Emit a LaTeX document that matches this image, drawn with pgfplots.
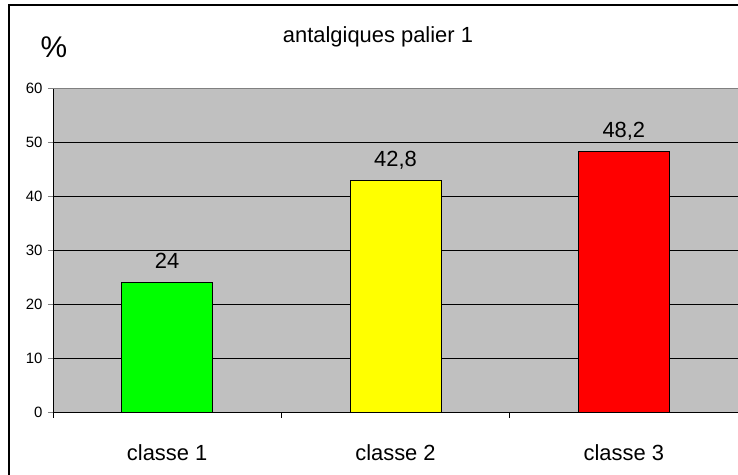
\documentclass[border=0pt]{standalone}
\usepackage{fontspec}
\setmainfont{Liberation Sans}
\usepackage{pgfplots}
\pgfplotsset{compat=1.18}

\definecolor{plotgray}{HTML}{C0C0C0}
\definecolor{edgegray}{HTML}{808080}

\begin{document}
\begin{tikzpicture}[x=1bp,y=1bp]
\path[use as bounding box] (-53,-63) rectangle (685,412);
% outer chart frame (only left and top edges are inside the picture)
\draw[black, line width=1.4bp] (-44,-70) -- (-44,407) -- (700,407);

\begin{axis}[
    at={(0,0)}, anchor=south west,
    scale only axis,
    width=685bp, height=324bp,
    xmin=0.5, xmax=3.5,
    ymin=0, ymax=60,
    ytick={0,10,...,60},
    xtick={1,2,3},
    xticklabels={classe 1, classe 2, classe 3},
    major x tick style={draw=none},
    minor xtick={0.5,1.5,2.5,3.5},
    minor x tick style={black, line width=0.8bp},
    minor tick length=6bp,
    tick align=outside,
    major tick length=5bp,
    axis x line*=bottom,
    axis y line*=left,
    axis line style={black, line width=0.9bp, -},
    ymajorgrids,
    grid style={black, line width=0.7bp},
    axis background/.style={fill=plotgray},
    ybar, bar width=91bp, bar shift=0pt,
    /pgf/number format/assume math mode=true,
    /pgf/number format/use comma,
    yticklabel style={font=\fontsize{15}{17}\selectfont, anchor=east, xshift=-2bp},
    xticklabel style={font=\fontsize{22}{26}\selectfont, anchor=base, yshift=-44bp},
    nodes near coords,
    every node near coord/.append style={font=\fontsize{22}{26}\selectfont, anchor=base, yshift=14bp, black},
    clip=false,
]
\addplot[fill={rgb,255:red,0;green,255;blue,0}, draw=black, line width=0.9bp] coordinates {(1,24)};
\addplot[fill={rgb,255:red,255;green,255;blue,0}, draw=black, line width=0.9bp] coordinates {(2,42.8)};
\addplot[fill={rgb,255:red,255;green,0;blue,0}, draw=black, line width=0.9bp] coordinates {(3,48.2)};
\draw[edgegray, line width=0.9bp] (rel axis cs:0,1) -- (rel axis cs:1,1) -- (rel axis cs:1,0);
\end{axis}

\node[anchor=base, font=\fontsize{22}{26}\selectfont] at (325,369) {antalgiques palier 1};
\node[anchor=base, font=\fontsize{30}{34}\selectfont] at (1,354) {\%};
\end{tikzpicture}
\end{document}
